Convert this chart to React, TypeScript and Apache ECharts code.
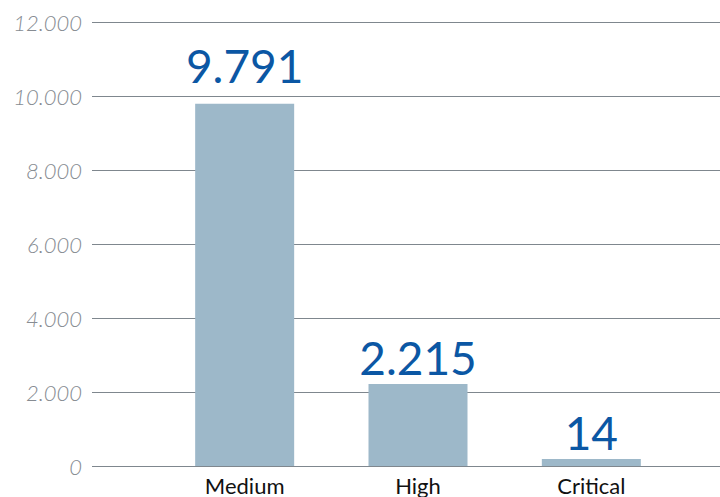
import React, { useEffect, useRef } from "react";
import * as echarts from "echarts";

const categories = ["Medium", "High", "Critical"];
const values = [9791, 2215, 14];
const yMin = 0;
const yMax = 12000;
const yInterval = 2000;

const fmt = (v: number) => {
  const s = String(Math.round(v));
  return s.replace(/\B(?=(\d{3})+(?!\d))/g, ".");
};

export default function App() {
  const ref = useRef<HTMLDivElement>(null);
  useEffect(() => {
    if (!ref.current) return;
    const chart = echarts.init(ref.current, null, { renderer: "svg" });
    const seriesData = values.map((v, i) =>
      i === 0 ? { value: v, label: { distance: 15 } } : { value: v }
    );
    chart.setOption({
      animation: false,
      backgroundColor: "#ffffff",
      grid: [
        { left: 92, right: 0, top: 22, bottom: 31, outerBoundsMode: "none", containLabel: false },
        { left: 158, right: 42, top: 22, bottom: 31, outerBoundsMode: "none", containLabel: false },
      ],
      xAxis: [
        {
          gridIndex: 0,
          type: "value",
          min: 0,
          max: 1,
          axisLine: { show: false },
          axisTick: { show: false },
          axisLabel: { show: false },
          splitLine: { show: false },
        },
        {
          gridIndex: 1,
          type: "category",
          data: categories,
          axisLine: { show: false },
          axisTick: { show: false },
          axisLabel: {
            color: "#111111",
            fontFamily: "Lato",
            fontSize: 22,
            margin: 8,
          },
        },
      ],
      yAxis: [
        {
          gridIndex: 0,
          type: "value",
          min: yMin,
          max: yMax,
          interval: yInterval,
          axisLine: { show: false },
          axisTick: { show: false },
          axisLabel: {
            formatter: (v: number) => fmt(v),
            color: "#878c92",
            fontFamily: "Lato",
            fontStyle: "italic",
            fontWeight: 300,
            fontSize: 22,
            margin: 10,
          },
          splitLine: { lineStyle: { color: "#7f878e", width: 1 } },
        },
        {
          gridIndex: 1,
          type: "value",
          min: yMin,
          max: yMax,
          interval: yInterval,
          show: false,
          splitLine: { show: false },
        },
      ],
      series: [
        {
          type: "bar",
          xAxisIndex: 1,
          yAxisIndex: 1,
          data: seriesData,
          barWidth: 99,
          barMinHeight: 7,
          itemStyle: { color: "#9db8c9" },
          label: {
            show: true,
            position: "top",
            distance: 4,
            color: "#0b57a4",
            fontFamily: "Lato",
            fontSize: 46,
            formatter: (p: any) => fmt(p.value),
          },
        },
      ],
    });
    return () => chart.dispose();
  }, []);
  return <div ref={ref} style={{ width: 720, height: 497, position: "absolute", left: 0, top: 0 }} />;
}
